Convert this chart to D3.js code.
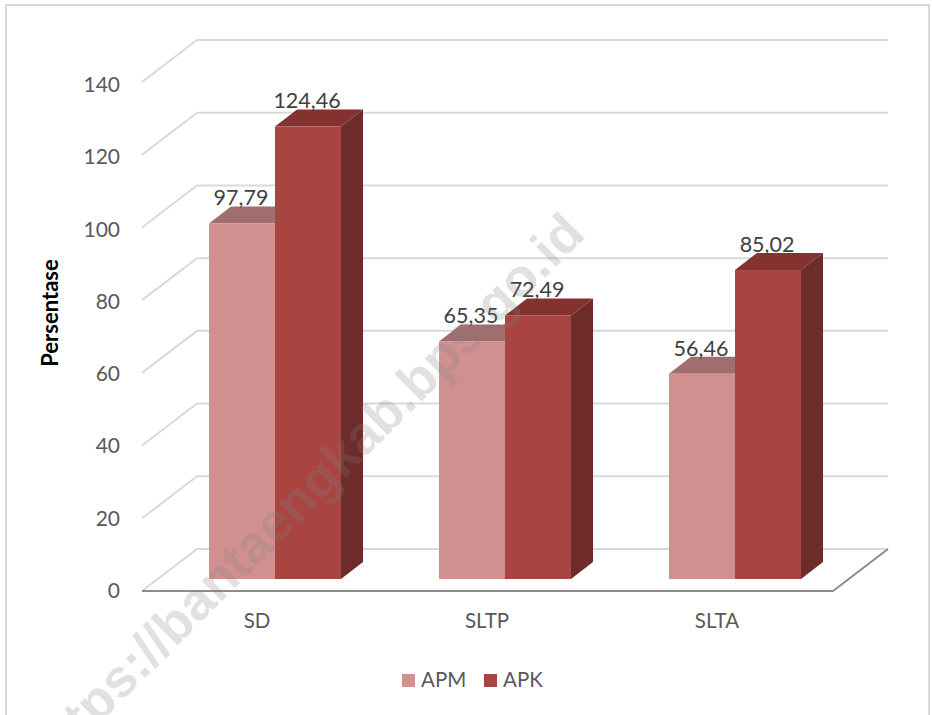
<!DOCTYPE html>
<html>
<head>
<meta charset="utf-8">
<script src="https://cdn.jsdelivr.net/npm/d3@7"></script>
<style>
  body { margin: 0; background: #fff; }
  text { font-family: Lato, "Open Sans", sans-serif; }
</style>
</head>
<body>
<svg id="chart"></svg>
<script>
const width = 932;
const height = 715;

const categories = ["SD", "SLTP", "SLTA"];
const seriesNames = ["APM", "APK"];
const apm = [97.79, 65.35, 56.46];
const apk = [124.46, 72.49, 85.02];
const yTicks = [0, 20, 40, 60, 80, 100, 120, 140];

const colors = { APM: "#d09090", APK: "#a94541" };
const topColors = { APM: "#a06e6e", APK: "#84322f" };
const sideColors = { APK: "#6d2b29", APM: "#7d5656" };

const depthX = 22, depthY = 17;   // bar extrusion
const wallX = 55, wallY = 42;     // floor depth

const svg = d3.select("#chart")
  .attr("width", width)
  .attr("height", height)
  .style("display", "block");

// y scale on the front edge of the floor, bars stand 12px behind it
const y = d3.scaleLinear().domain([0, 140]).range([591, 82]);
const barY = v => y(v) - 12;
// tick text baselines run on a slightly tighter spacing than the gridlines
const tickY = d3.scaleLinear().domain([0, 140]).range([598, 92]);

const x0 = d3.scaleBand().domain(categories).range([160, 850]);
const x1 = d3.scaleBand().domain(seriesNames).range([0, x0.bandwidth()])
  .paddingInner(0).paddingOuter(0.742);

const floorLeft = 142, floorRight = 833;

// chart frame, open at the bottom
svg.append("path")
  .attr("d", `M6,${height} V5 H929 V${height}`)
  .attr("fill", "none")
  .attr("stroke", "#d9d9d9")
  .attr("stroke-width", 2);

// gridlines on the wall and side
svg.selectAll(".grid")
  .data(yTicks)
  .enter()
  .append("path")
  .attr("class", "grid")
  .attr("d", d => `M${floorLeft},${y(d)} L${floorLeft + wallX},${y(d) - wallY} H${floorRight + wallX}`)
  .attr("fill", "none")
  .attr("stroke", "#d9d9d9")
  .attr("stroke-width", 2);

// floor front and right edge
svg.append("path")
  .attr("d", `M${floorLeft},${y(0)} H${floorRight} L${floorRight + wallX},${y(0) - wallY}`)
  .attr("fill", "none")
  .attr("stroke", "#8c8c8c")
  .attr("stroke-width", 2);

const rows = categories.map((c, i) => ({ c, APM: apm[i], APK: apk[i] }));

seriesNames.forEach(s => {
  const bar = svg.selectAll(`.bar-${s}`)
    .data(rows)
    .enter()
    .append("g")
    .attr("class", `bar-${s}`);

  const left = d => x0(d.c) + x1(s);
  const right = d => left(d) + x1.bandwidth();

  bar.append("path")
    .attr("fill", sideColors[s])
    .attr("d", d => `M${right(d)},${barY(d[s])} l${depthX},${-depthY} V${barY(0) - depthY} l${-depthX},${depthY} Z`);

  bar.append("path")
    .attr("fill", topColors[s])
    .attr("d", d => `M${left(d)},${barY(d[s])} l${depthX},${-depthY} H${right(d) + depthX} l${-depthX},${depthY} Z`);

  bar.append("rect")
    .attr("fill", colors[s])
    .attr("x", left)
    .attr("y", d => barY(d[s]))
    .attr("width", x1.bandwidth())
    .attr("height", d => barY(0) - barY(d[s]));
});

// value labels, decimal comma as in the source
seriesNames.forEach(s => {
  svg.selectAll(`.label-${s}`)
    .data(rows)
    .enter()
    .append("text")
    .attr("class", `label-${s}`)
    .attr("x", d => x0(d.c) + x1(s) + x1.bandwidth() / 2 - 1)
    .attr("y", d => barY(d[s]) - 18)
    .attr("text-anchor", "middle")
    .attr("font-size", 21.5)
    .attr("fill", "#404040")
    .text(d => d[s].toFixed(2).replace(".", ","));
});

// y tick labels
svg.selectAll(".ytick")
  .data(yTicks)
  .enter()
  .append("text")
  .attr("class", "ytick")
  .attr("x", 120)
  .attr("y", d => tickY(d))
  .attr("text-anchor", "end")
  .attr("font-size", 21)
  .attr("fill", "#595959")
  .text(d => d);

// category labels sit left of the band centre because of the 3D offset
svg.selectAll(".xtick")
  .data(categories)
  .enter()
  .append("text")
  .attr("class", "xtick")
  .attr("x", d => x0(d) + x0.bandwidth() / 2 - 18)
  .attr("y", 628)
  .attr("text-anchor", "middle")
  .attr("font-size", 20.5)
  .attr("fill", "#595959")
  .text(d => d);

svg.append("text")
  .attr("transform", "translate(58,313) rotate(-90)")
  .attr("text-anchor", "middle")
  .attr("font-size", 22)
  .attr("font-weight", 700)
  .attr("fill", "#000")
  .text("Persentase");

// legend
const legendX = { APM: 402, APK: 484 };
const legend = svg.selectAll(".legend")
  .data(seriesNames)
  .enter()
  .append("g")
  .attr("class", "legend");

legend.append("rect")
  .attr("x", d => legendX[d])
  .attr("y", 674)
  .attr("width", 13)
  .attr("height", 13)
  .attr("fill", d => colors[d]);

legend.append("text")
  .attr("x", d => legendX[d] + 19)
  .attr("y", 687)
  .attr("font-size", 20.5)
  .attr("fill", "#595959")
  .text(d => d);

// watermark over everything, runs off the bottom left as in the source
svg.append("text")
  .attr("transform", "translate(587,236) rotate(-45)")
  .attr("text-anchor", "end")
  .attr("font-size", 53.5)
  .attr("font-weight", 700)
  .style("font-family", "'Liberation Sans', sans-serif")
  .attr("fill", "#808080")
  .attr("fill-opacity", 0.24)
  .text("https://bantaengkab.bps.go.id");
</script>
</body>
</html>
